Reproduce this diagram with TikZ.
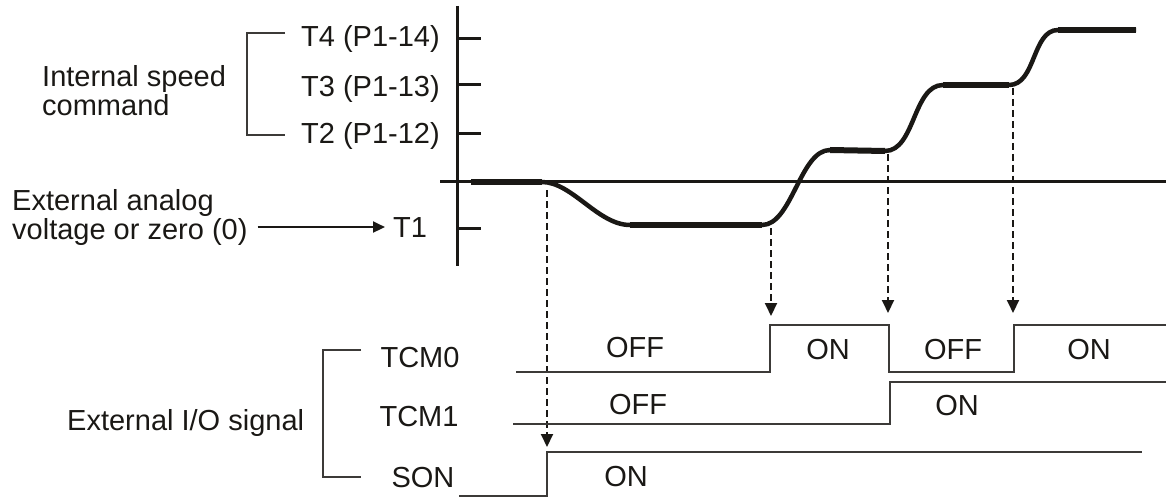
\documentclass[tikz,border=0pt]{standalone}
\usepackage{fontspec}
\setmainfont{Liberation Sans}
\usetikzlibrary{arrows.meta,positioning}
\definecolor{spdink}{HTML}{1A1815}
\definecolor{spdgrey}{HTML}{3C3A38}
\tikzset{
  ax/.style={line width=3pt, color=spdink},
  crv/.style={line width=4.5pt, color=spdink},
  flat/.style={line width=6pt, color=spdink},
  sig/.style={line width=1.6pt, color=spdgrey},
  brk/.style={line width=1.2pt, color=spdgrey},
  lbl/.style={inner sep=0pt, font=\fontsize{29}{29}\selectfont, text=spdink},
  dsh/.style={line width=2pt, color=spdink, dash pattern=on 7pt off 4pt, -{Triangle[length=13pt,width=12pt]}},
  arr/.style={line width=2pt, color=spdink, -{Triangle[length=12pt,width=11pt]}},
}
\begin{document}
\begin{tikzpicture}[x=1pt, y=-1pt]
    \useasboundingbox (0,0) rectangle (1166,497);
    % axes and ticks
    \coordinate (ytop) at (457,6); \coordinate (ybot) at (457,266);
    \coordinate (xl) at (440,182); \coordinate (xr) at (1166,182);
    \draw[ax] (ytop) -- (ybot);
    \draw[ax] (xl) -- (xr);
    \foreach \y in {39,85,134,228} \draw[ax] (457,\y) -- (481,\y);
    % speed levels
    \node[lbl, anchor=base west] (lt4) at (301,47) {T4 (P1-14)};
    \node[lbl, anchor=base west] (lt3) at (301,97) {T3 (P1-13)};
    \node[lbl, anchor=base west] (lt2) at (301,144) {T2 (P1-12)};
    \node[lbl, anchor=base west] (lt1) at (393,237) {T1};
    \node[lbl, anchor=west, align=left] (isp) at (42,91) {Internal speed\\command};
    \draw[brk] (285,33) -| (247,135) -- (285,135);
    \node[lbl, anchor=west, align=left, font=\fontsize{29}{24}\selectfont] (ext) at (12,217.5) {External analog\\voltage or zero (0)};
    \draw[arr, shorten <=10pt, shorten >=8pt] (ext.east |- lt1.west) -- (lt1.west);
    % speed curve
    \draw[crv] (471,182) -- (542,182) .. controls (572,182) and (598,225) .. (630,225) -- (762,225)
      .. controls (792,225) and (800,150) .. (830,150) -- (885,151)
      .. controls (915,151) and (913,85) .. (943,85) -- (1009,85)
      .. controls (1036,85) and (1032,30) .. (1058,30) -- (1136,30);
    \draw[flat] (471,182) -- (542,182);
    \draw[flat] (630,225) -- (762,225);
    \draw[flat] (830,150) -- (885,151);
    \draw[flat] (943,85) -- (1009,85);
    \draw[flat] (1058,30) -- (1136,30);
    % switching instants
    \foreach \i/\x/\ya/\yb in {1/547/190/447, 2/771/228/316, 3/888/154/313, 4/1013/88/313} {
      \coordinate (s\i) at (\x,\ya); \coordinate (e\i) at (\x,\yb);
      \draw[dsh] (s\i) -- (e\i);
    }
    % I/O signals
    \node[lbl, anchor=base west] (io) at (67,430) {External I/O signal};
    \draw[brk] (361,350) -| (323,477) -- (361,477);
    \node[lbl, anchor=base] (tcm0) at (420,367) {TCM0};
    \node[lbl, anchor=base] (tcm1) at (419,426) {TCM1};
    \node[lbl, anchor=base] (son) at (423,487) {SON};
    \draw[sig] (516,372) -- (770,372) -- (770,325) -- (889,325) -- (889,372) -- (1014,372) -- (1014,325) -- (1166,325);
    \draw[sig] (513,424) -- (890,424) -- (890,382) -- (1166,382);
    \draw[sig] (459,496) -- (547,496) -- (547,452) -- (1142,452);
    \node[lbl, anchor=base] (c0a) at (635,357) {OFF};
    \node[lbl, anchor=base] (c0b) at (828,359) {ON};
    \node[lbl, anchor=base] (c0c) at (953,359) {OFF};
    \node[lbl, anchor=base] (c0d) at (1089,359) {ON};
    \node[lbl, anchor=base] (c1a) at (638,414) {OFF};
    \node[lbl, anchor=base] (c1b) at (957,415) {ON};
    \node[lbl, anchor=base] (sna) at (626,486) {ON};
\end{tikzpicture}
\end{document}
